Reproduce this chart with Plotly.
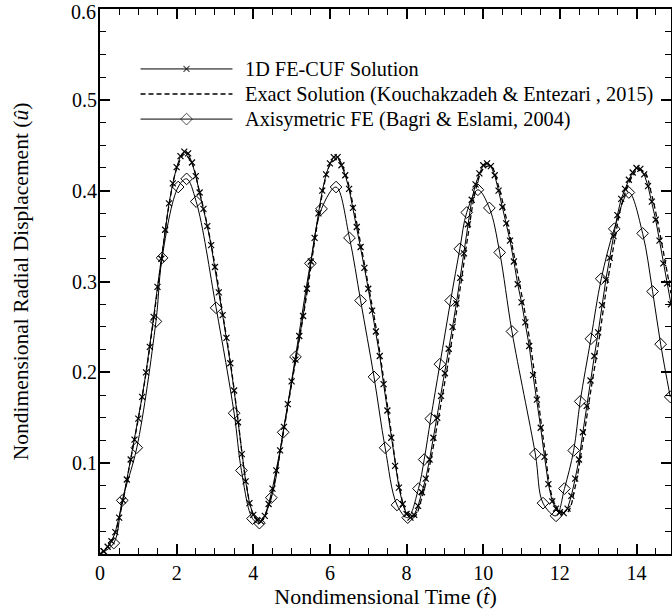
import plotly.graph_objects as go

# ---------------- data ----------------
t_cuf = [round(0.1 * i, 1) for i in range(150)]
u_cuf = [
    0.000, 0.003, 0.008, 0.014, 0.024, 0.040, 0.059, 0.082, 0.104, 0.126,
    0.149, 0.173, 0.200, 0.228, 0.261, 0.294, 0.325, 0.357, 0.386, 0.408,
    0.426, 0.438, 0.443, 0.441, 0.431, 0.416, 0.398, 0.380, 0.361, 0.340,
    0.316, 0.288, 0.263, 0.238, 0.210, 0.180, 0.145, 0.110, 0.080, 0.056,
    0.043, 0.037, 0.036, 0.042, 0.055, 0.072, 0.092, 0.114, 0.140, 0.165,
    0.190, 0.214, 0.240, 0.262, 0.292, 0.322, 0.348, 0.375, 0.400, 0.418,
    0.430, 0.437, 0.437, 0.428, 0.417, 0.402, 0.381, 0.360, 0.338, 0.315,
    0.292, 0.268, 0.245, 0.218, 0.187, 0.158, 0.128, 0.097, 0.073, 0.055,
    0.044, 0.040, 0.043, 0.053, 0.068, 0.083, 0.104, 0.128, 0.150, 0.174,
    0.199, 0.226, 0.250, 0.276, 0.304, 0.331, 0.363, 0.390, 0.407, 0.419,
    0.428, 0.430, 0.427, 0.417, 0.400, 0.382, 0.364, 0.345, 0.322, 0.297,
    0.277, 0.255, 0.229, 0.197, 0.170, 0.139, 0.107, 0.077, 0.058, 0.050,
    0.046, 0.045, 0.050, 0.064, 0.083, 0.104, 0.134, 0.163, 0.191, 0.218,
    0.244, 0.274, 0.302, 0.326, 0.350, 0.373, 0.391, 0.402, 0.412, 0.420,
    0.425, 0.424, 0.418, 0.405, 0.388, 0.368, 0.345, 0.320, 0.298, 0.275,
]

t_exact = [round(0.2 * i, 1) for i in range(75)] + [14.9]
u_exact = [
    0.000, 0.008, 0.024, 0.059, 0.104, 0.149, 0.199, 0.259, 0.323, 0.384,
    0.424, 0.440, 0.430, 0.398, 0.362, 0.318, 0.265, 0.212, 0.148, 0.082,
    0.044, 0.036, 0.053, 0.089, 0.137, 0.187, 0.236, 0.287, 0.344, 0.396,
    0.428, 0.435, 0.419, 0.385, 0.342, 0.296, 0.250, 0.193, 0.134, 0.077,
    0.046, 0.041, 0.062, 0.097, 0.142, 0.190, 0.240, 0.293, 0.350, 0.400,
    0.424, 0.427, 0.405, 0.370, 0.330, 0.286, 0.239, 0.180, 0.117, 0.063,
    0.047, 0.046, 0.074, 0.123, 0.178, 0.230, 0.288, 0.338, 0.383, 0.408,
    0.422, 0.421, 0.395, 0.355, 0.310, 0.287,
]

t_axi = [0.00, 0.36, 0.58, 0.96, 1.46, 1.62, 2.04, 2.26, 2.51, 3.03,
         3.50, 3.69, 3.98, 4.16, 4.47, 4.78, 5.10, 5.49, 5.78, 6.16,
         6.51, 6.80, 7.15, 7.44, 7.75, 8.03, 8.31, 8.46, 8.63, 8.87,
         9.15, 9.39, 9.57, 9.86, 10.16, 10.43, 10.75, 11.36, 11.56, 11.90,
         12.12, 12.36, 12.53, 12.81, 13.08, 13.42, 13.80, 14.16, 14.42, 14.63,
         14.88]
u_axi = [0.000, 0.012, 0.059, 0.117, 0.256, 0.326, 0.404, 0.413, 0.388, 0.271,
         0.155, 0.092, 0.039, 0.034, 0.062, 0.134, 0.217, 0.320, 0.380, 0.404,
         0.348, 0.279, 0.195, 0.117, 0.054, 0.040, 0.072, 0.104, 0.149, 0.209,
         0.279, 0.336, 0.376, 0.401, 0.381, 0.332, 0.245, 0.110, 0.056, 0.042,
         0.072, 0.114, 0.168, 0.237, 0.303, 0.358, 0.398, 0.353, 0.289, 0.231,
         0.173]

legend_labels = [
    "1D FE-CUF Solution",
    "Exact Solution (Kouchakzadeh & Entezari , 2015)",
    "Axisymetric FE (Bagri & Eslami, 2004)",
]

x_ticks = [0, 2, 4, 6, 8, 10, 12, 14]
y_ticks = [0.0, 0.1, 0.2, 0.3, 0.4, 0.5, 0.6]
y_ticktext = ["", "0.1", "0.2", "0.3", "0.4", "0.5", ""]
y_top_label = "0.6"   # drawn as its own text so it stays inside the page

# ---------------- styles ----------------
FONT = "Liberation Serif, Times New Roman, serif"
BLACK = "black"
cuf_marker = dict(symbol="x-thin", size=6, line=dict(width=1.2, color=BLACK), color=BLACK)
axi_marker = dict(symbol="diamond-open", size=9, line=dict(width=1, color=BLACK), color=BLACK)

fig = go.Figure()

fig.add_trace(go.Scatter(
    x=t_exact, y=u_exact, mode="lines", line_shape="spline",
    line=dict(color=BLACK, width=1.3, dash="5px,3px"),
    name=legend_labels[1], showlegend=False))
fig.add_trace(go.Scatter(
    x=t_cuf, y=u_cuf, mode="lines+markers",
    line=dict(color=BLACK, width=1), marker=cuf_marker,
    name=legend_labels[0], showlegend=False))
fig.add_trace(go.Scatter(
    x=t_axi, y=u_axi, mode="lines+markers", line_shape="spline",
    line=dict(color=BLACK, width=1), marker=axi_marker,
    name=legend_labels[2], showlegend=False))

# ---------------- hand-made legend (long key lines as in the reference) ----------------
leg_x0, leg_x1, leg_xt = 0.071, 0.232, 0.250
leg_y = [0.890, 0.844, 0.798]
leg_styles = [
    dict(line=dict(color=BLACK, width=1), marker=cuf_marker, mode="lines+markers"),
    dict(line=dict(color=BLACK, width=1.3, dash="5px,3px"), mode="lines"),
    dict(line=dict(color=BLACK, width=1), marker=axi_marker, mode="lines+markers"),
]
for yy, st, lab in zip(leg_y, leg_styles, legend_labels):
    xm = (leg_x0 + leg_x1) / 2
    kw = dict(st)
    mode = kw.pop("mode")
    if mode == "lines+markers":
        fig.add_trace(go.Scatter(
            x=[leg_x0, xm, leg_x1], y=[yy, yy, yy], mode="lines+markers",
            marker_size=[0, kw["marker"]["size"], 0],
            line=kw["line"], marker=dict(symbol=kw["marker"]["symbol"],
                                        line=kw["marker"]["line"], color=BLACK),
            xaxis="x2", yaxis="y2", showlegend=False, hoverinfo="skip"))
    else:
        fig.add_trace(go.Scatter(
            x=[leg_x0, leg_x1], y=[yy, yy], mode="lines", line=kw["line"],
            xaxis="x2", yaxis="y2", showlegend=False, hoverinfo="skip"))
    fig.add_annotation(x=leg_xt, y=yy, xref="x2", yref="y2", text=lab,
                       showarrow=False, xanchor="left", yanchor="middle",
                       font=dict(family=FONT, size=20.3, color=BLACK))

# top y tick label, nudged down a little as in the reference
fig.add_annotation(x=0, xref="paper", y=y_ticks[-1], yref="y", text=y_top_label,
                   showarrow=False, xanchor="right", yanchor="middle",
                   xshift=-3, yshift=-3, borderpad=0,
                   font=dict(family=FONT, size=20, color=BLACK))

axis_common = dict(
    showline=True, linecolor=BLACK, linewidth=2, mirror="allticks",
    ticks="inside", ticklen=10, tickwidth=1.5, tickcolor=BLACK,
    showgrid=False, zeroline=False, ticklabeloverflow="allow",
    automargin=False,
    tickfont=dict(family=FONT, size=20, color=BLACK),
)

fig.update_layout(
    width=672, height=614,
    margin=dict(l=100, r=1, t=9, b=60),
    paper_bgcolor="white", plot_bgcolor="white",
    showlegend=False,
    xaxis=dict(
        range=[0, 14.9], tickmode="array", tickvals=x_ticks,
        minor=dict(tickmode="linear", tick0=0, dtick=0.5, ticks="inside",
                   ticklen=6, tickwidth=1.2, tickcolor=BLACK),
        title=dict(text="Nondimensional Time (<i>t\u0302</i>)",
                   font=dict(family=FONT, size=22, color=BLACK), standoff=5),
        **axis_common),
    yaxis=dict(
        range=[0, 0.6], tickmode="array", tickvals=y_ticks, ticktext=y_ticktext,
        ticklabelstandoff=-3,
        minor=dict(tickmode="linear", tick0=0, dtick=0.025, ticks="inside",
                   ticklen=6, tickwidth=1.2, tickcolor=BLACK),
        title=dict(text="Nondimensional Radial Displacement (<i>\u00fb</i>)",
                   font=dict(family=FONT, size=21.5, color=BLACK), standoff=37),
        **axis_common),
    xaxis2=dict(overlaying="x", range=[0, 1], visible=False),
    yaxis2=dict(overlaying="y", range=[0, 1], visible=False),
)

fig.write_html("out.html")
